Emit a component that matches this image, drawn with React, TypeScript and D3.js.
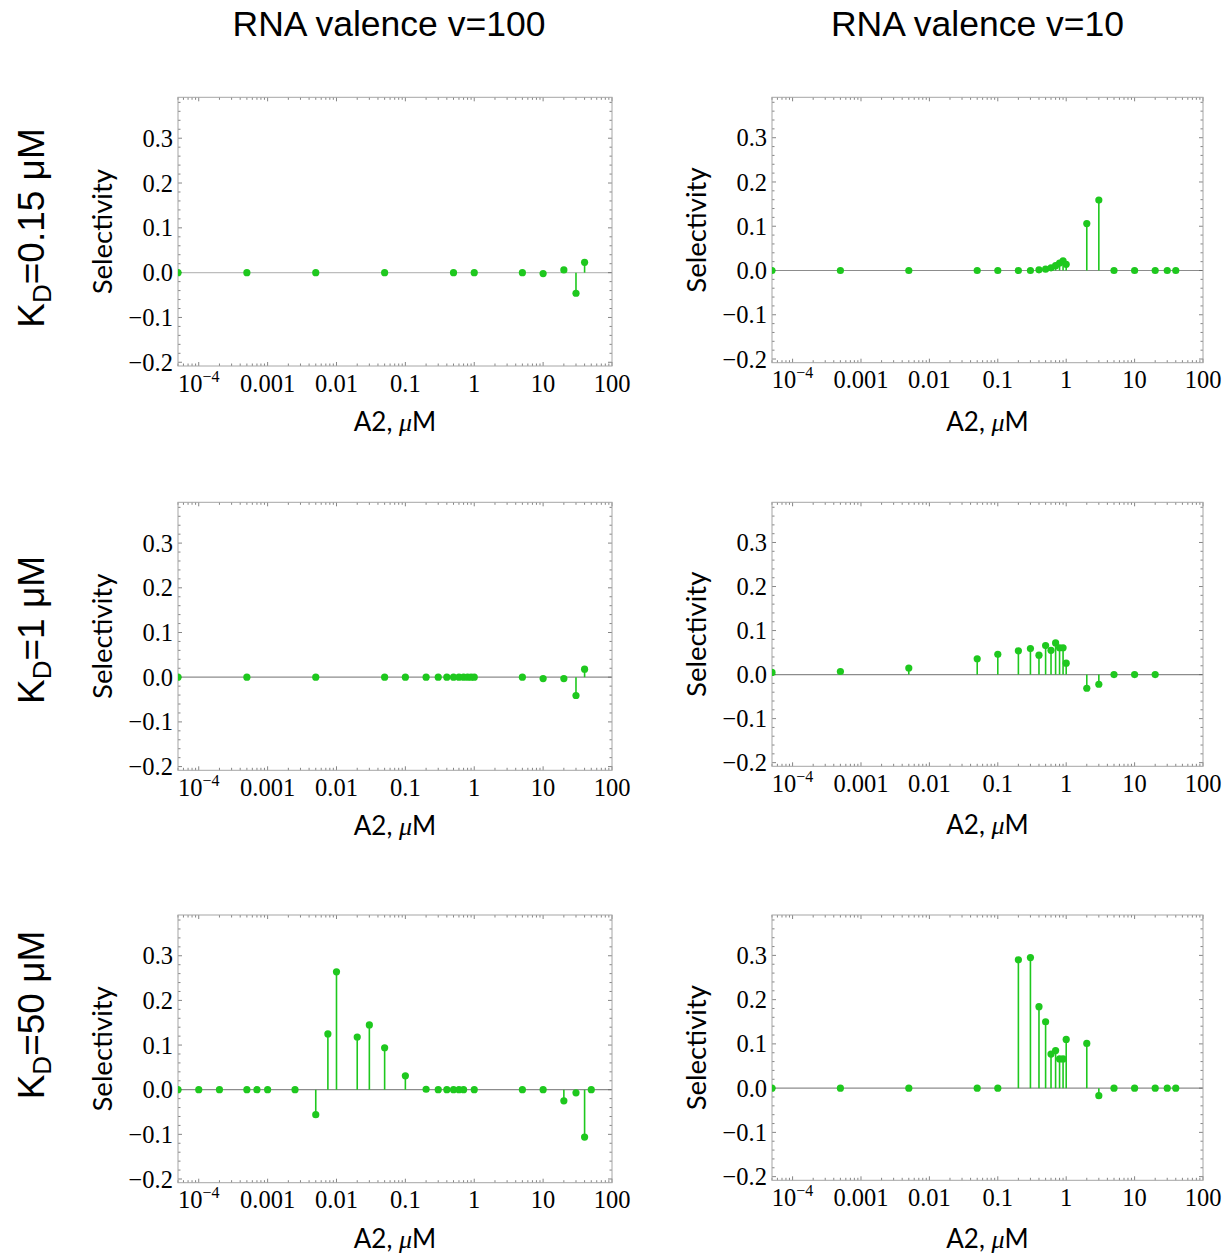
import React from "react";
import * as d3 from "d3";

// A2 concentrations (uM) and selectivity for each panel
const xV100K015 = [5e-5, 5e-4, 5e-3, 0.05, 0.5, 1, 5, 10, 20, 30, 40];
const sV100K015 = [0, 0, 0, 0, 0, 0, 0, -0.002, 0.006, -0.046, 0.023];

const xV10K015 = [5e-5, 5e-4, 5e-3, 0.05, 0.1, 0.2, 0.3, 0.4, 0.5, 0.6, 0.7, 0.8, 0.9, 1, 2, 3, 5, 10, 20, 30, 40];
const sV10K015 = [0, 0, 0, 0, 0, 0, 0, 0.0015, 0.003, 0.006, 0.011, 0.017, 0.022, 0.014, 0.106, 0.159, 0, 0, 0, 0, 0];

const xV100K1 = [5e-5, 5e-4, 5e-3, 0.05, 0.1, 0.2, 0.3, 0.4, 0.5, 0.6, 0.7, 0.8, 0.9, 1, 5, 10, 20, 30, 40];
const sV100K1 = [0, 0, 0, 0, 0, 0, 0, 0, 0, 0, 0, 0, 0, 0, 0, -0.003, -0.003, -0.041, 0.018];

const xV10K1 = [5e-5, 5e-4, 5e-3, 0.05, 0.1, 0.2, 0.3, 0.4, 0.5, 0.6, 0.7, 0.8, 0.9, 1, 2, 3, 5, 10, 20];
const sV10K1 = [0.005, 0.007, 0.015, 0.036, 0.046, 0.054, 0.059, 0.044, 0.066, 0.055, 0.072, 0.061, 0.061, 0.026, -0.031, -0.022, 0, 0, 0];

const xV100K50 = [5e-5, 1e-4, 2e-4, 5e-4, 7e-4, 1e-3, 2.5e-3, 5e-3, 7.5e-3, 0.01, 0.02, 0.03, 0.05, 0.1, 0.2, 0.3, 0.4, 0.5, 0.6, 0.7, 1, 5, 10, 20, 30, 40, 50];
const sV100K50 = [0, 0, 0, 0, 0, 0, 0, -0.056, 0.125, 0.264, 0.118, 0.145, 0.094, 0.031, 0.001, 0, 0, 0, 0, 0, 0, 0, 0, -0.025, -0.007, -0.106, 0];

const xV10K50 = [5e-5, 5e-4, 5e-3, 0.05, 0.1, 0.2, 0.3, 0.4, 0.5, 0.6, 0.7, 0.8, 0.9, 1, 2, 3, 5, 10, 20, 30, 40];
const sV10K50 = [0, 0, 0, 0, 0, 0.29, 0.295, 0.184, 0.15, 0.077, 0.085, 0.066, 0.066, 0.11, 0.101, -0.017, 0, 0, 0, 0, 0];

const colTitles = ["RNA valence v=100", "RNA valence v=10"];
const rowKd = ["0.15", "1", "50"];

const xTickValues = [1e-4, 1e-3, 1e-2, 0.1, 1, 10, 100];
const xTickLabels = ["10^-4", "0.001", "0.01", "0.1", "1", "10", "100"];
const yTickValues = [-0.2, -0.1, 0, 0.1, 0.2, 0.3];
const yTickLabels = ["\u22120.2", "\u22120.1", "0.0", "0.1", "0.2", "0.3"];

const W = 1230;
const H = 1257;
const cols = [
  { x0: 178, x1: 612, rows: [[97.3, 366], [502.3, 770.3], [915, 1182.7]], titleDy: 65 },
  { x0: 772, x1: 1203, rows: [[97.3, 362.7], [502.3, 766.3], [915, 1180.3]], titleDy: 68 },
];
const rowLabelY = [228, 630, 1015];

const green = "#1ec81e";
const serif = "'Liberation Serif', 'Times New Roman', serif";
const sans = "Lato, 'Open Sans', sans-serif";
const arial = "'Liberation Sans', Arial, sans-serif";

function Panel({ id, xs, ys, col, ri, lightAxis }) {
  const { x0, x1 } = col;
  const [y0, y1] = col.rows[ri];
  const x = d3.scaleLog().domain([5e-5, 100]).range([x0, x1]);
  const y = d3.scaleLinear().domain([-0.2083, 0.3913]).range([y1, y0]);

  const minorX = [];
  for (let e = -5; e <= 2; e++) {
    for (let k = 1; k <= 9; k++) {
      const v = k * Math.pow(10, e);
      if (v >= 5e-5 && v <= 100.0001) minorX.push({ v, major: k === 1 });
    }
  }
  const minorY = d3.range(-0.2, 0.3901, 0.02).map((v) => ({
    v,
    major: Math.abs(Math.round(v * 10) - v * 10) < 1e-6,
  }));

  const tickColor = "#666";
  return (
    <g>
      <defs>
        <clipPath id={id}>
          <rect x={x0} y={y0} width={x1 - x0} height={y1 - y0} />
        </clipPath>
      </defs>
      {/* zero axis */}
      <line x1={x0} x2={x1} y1={y(0)} y2={y(0)} stroke={lightAxis ? "#bdbdbd" : "#8c8c8c"} strokeWidth={1.2} />
      {/* frame ticks, pointing inward */}
      {minorX.map((t, i) => {
        const len = t.major ? 4 : 2.5;
        const px = x(t.v);
        return (
          <g key={"tx" + i}>
            <line x1={px} x2={px} y1={y1} y2={y1 - len} stroke={tickColor} strokeWidth={0.8} />
            <line x1={px} x2={px} y1={y0} y2={y0 + len} stroke={tickColor} strokeWidth={0.8} />
          </g>
        );
      })}
      {minorY.map((t, i) => {
        const len = t.major ? 4 : 2.5;
        const py = y(t.v);
        return (
          <g key={"ty" + i}>
            <line x1={x0} x2={x0 + len} y1={py} y2={py} stroke={tickColor} strokeWidth={0.8} />
            <line x1={x1} x2={x1 - len} y1={py} y2={py} stroke={tickColor} strokeWidth={0.8} />
          </g>
        );
      })}
      <rect x={x0} y={y0} width={x1 - x0} height={y1 - y0} fill="none" stroke="#a6a6a6" strokeWidth={1} />
      {/* stems and points */}
      <g clipPath={`url(#${id})`}>
        {xs.map((v, i) => (
          <line key={"s" + i} x1={x(v)} x2={x(v)} y1={y(0)} y2={y(ys[i])} stroke={green} strokeWidth={1.6} />
        ))}
        {xs.map((v, i) => (
          <circle key={"p" + i} cx={x(v)} cy={y(ys[i])} r={3.6} fill={green} />
        ))}
      </g>
      {/* tick labels */}
      {xTickValues.map((v, i) => {
        const lab = xTickLabels[i];
        if (lab.includes("^")) {
          const [b, p] = lab.split("^");
          return (
            <text key={"xl" + i} x={x(v)} y={y1 + 25.5} textAnchor="middle" fontFamily={serif} fontSize={24.5}>
              {b}
              <tspan fontSize={16} dy={-10}>{p.replace("-", "\u2212")}</tspan>
            </text>
          );
        }
        return (
          <text key={"xl" + i} x={x(v)} y={y1 + 25.5} textAnchor="middle" fontFamily={serif} fontSize={24.5}>
            {lab}
          </text>
        );
      })}
      {yTickValues.map((v, i) => (
        <text key={"yl" + i} x={x0 - 5} y={y(v)} dy="0.35em" textAnchor="end" fontFamily={serif} fontSize={24.5}>
          {yTickLabels[i]}
        </text>
      ))}
      {/* axis titles */}
      <text x={(x0 + x1) / 2} y={y1 + col.titleDy} textAnchor="middle" fontFamily={sans} fontSize={26}>
        A2,{" "}
        <tspan fontFamily={serif} fontStyle="italic">
          μ
        </tspan>
        M
      </text>
      <text
        transform={`translate(${x0 - 66},${(y0 + y1) / 2}) rotate(-90)`}
        textAnchor="middle"
        fontFamily={sans}
        fontSize={27.5}
      >
        Selectivity
      </text>
    </g>
  );
}

export default function App() {
  const panels = [
    [xV100K015, sV100K015, xV10K015, sV10K015],
    [xV100K1, sV100K1, xV10K1, sV10K1],
    [xV100K50, sV100K50, xV10K50, sV10K50],
  ];
  return (
    <svg
      width={W}
      height={H}
      viewBox={`0 0 ${W} ${H}`}
      style={{ position: "absolute", left: 0, top: 0, background: "#fff" }}
    >
      <rect width={W} height={H} fill="#fff" />
      {colTitles.map((t, i) => (
        <text
          key={t}
          x={(cols[i].x0 + cols[i].x1) / 2 - (i === 0 ? 6 : 10)}
          y={36}
          textAnchor="middle"
          fontFamily={arial}
          fontSize={35.5}
        >
          {t}
        </text>
      ))}
      {rowLabelY.map((ly, ri) => (
        <text
          key={"row" + ri}
          transform={`translate(44,${ly}) rotate(-90)`}
          textAnchor="middle"
          fontFamily={arial}
          fontSize={37}
        >
          K<tspan fontSize={26} dy={7}>D</tspan>
          <tspan dy={-7}>={rowKd[ri]} μM</tspan>
        </text>
      ))}
      {panels.map((p, ri) => (
        <g key={"r" + ri}>
          <Panel id={`c${ri}a`} xs={p[0]} ys={p[1]} col={cols[0]} ri={ri} lightAxis={ri === 0} />
          <Panel id={`c${ri}b`} xs={p[2]} ys={p[3]} col={cols[1]} ri={ri} lightAxis={false} />
        </g>
      ))}
    </svg>
  );
}
